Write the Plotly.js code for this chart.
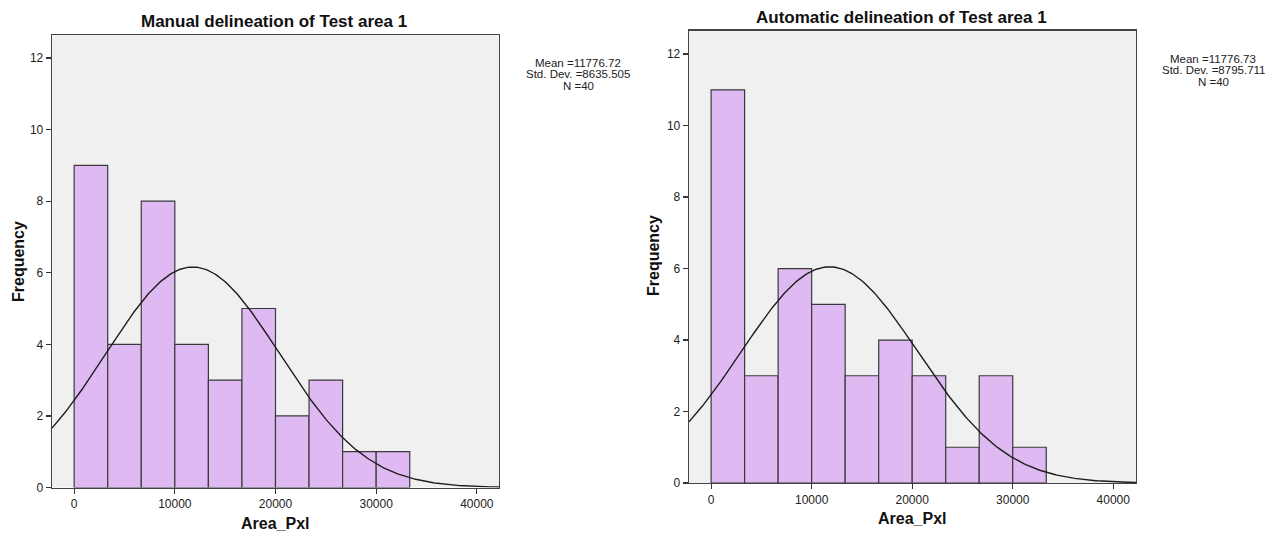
<!DOCTYPE html>
<html>
<head>
<meta charset="utf-8">
<script src="https://cdn.plot.ly/plotly-3.0.1.min.js"></script>
<style>html,body{margin:0;padding:0;background:#fff;}#chart{width:1286px;height:541px;}</style>
</head>
<body>
<div id="chart"></div>
<script>
// Histogram bins (lower edges, pixel area), shared by both panels
const binLeft = [0, 3333.33, 6666.67, 10000, 13333.33, 16666.67, 20000, 23333.33, 26666.67, 30000];
const binWidth = 3333.33;

// Frequencies
const manualCounts = [9, 4, 8, 4, 3, 5, 2, 3, 1, 1];
const autoCounts   = [11, 3, 6, 5, 3, 4, 3, 1, 3, 1];

// Summary statistics printed on the chart
const manualStats = {mean: 11776.72, sd: 8635.505, n: 40};
const autoStats   = {mean: 11776.73, sd: 8795.711, n: 40};

const titles = ["Manual delineation of Test area 1", "Automatic delineation of Test area 1"];
const xTitle = "Area_Pxl";
const yTitle = "Frequency";
const xTickVals = [0, 10000, 20000, 30000, 40000];
const yTickVals = [0, 2, 4, 6, 8, 10, 12];

const xRange1 = [-2200, 42200];
const xRange2 = [-2200, 42260];
const yRange1 = [0, 12.64];
const yRange2 = [0, 12.66];

// Fitted normal curve (the curve SPSS overlays from mean, SD and N)
function normalCurve(st, rng) {
  const xs = [], ys = [];
  const steps = 300;
  for (let i = 0; i <= steps; i++) {
    const x = rng[0] + (rng[1] - rng[0]) * i / steps;
    const z = (x - st.mean) / st.sd;
    xs.push(x);
    ys.push(st.n * binWidth / (st.sd * Math.sqrt(2 * Math.PI)) * Math.exp(-0.5 * z * z));
  }
  return {xs, ys};
}

const barColor = "#dfbaf2";
const edge = "#3a3a3a";
const FONT = "Arial, Liberation Sans, sans-serif";

function barTrace(counts, xa, ya) {
  return {
    type: "bar", x: binLeft, y: counts, width: binWidth, offset: 0,
    marker: {color: barColor, line: {color: edge, width: 1.2}},
    xaxis: xa, yaxis: ya, hoverinfo: "x+y", showlegend: false
  };
}
function curveTrace(st, rng, xa, ya) {
  const c = normalCurve(st, rng);
  return {
    type: "scatter", mode: "lines", x: c.xs, y: c.ys,
    line: {color: "#1e1e1e", width: 1.4}, xaxis: xa, yaxis: ya,
    hoverinfo: "skip", showlegend: false
  };
}

const data = [
  barTrace(manualCounts, "x", "y"), curveTrace(manualStats, xRange1, "x", "y"),
  barTrace(autoCounts, "x2", "y2"), curveTrace(autoStats, xRange2, "x2", "y2")
];

const tickFont = {family: FONT, size: 12, color: "#222"};

function xAxis(domain, anchor, rng) {
  return {
    domain: domain, anchor: anchor, range: rng, tickvals: xTickVals,
    ticktext: xTickVals.map(String), ticks: "outside", ticklen: 5, tickcolor: "#333", tickwidth: 1.2,
    tickfont: tickFont, showgrid: false, zeroline: false,
    showline: true, linecolor: "#444", linewidth: 1.3, mirror: true
  };
}
function yAxis(domain, anchor, rng) {
  return {
    domain: domain, anchor: anchor, range: rng, tickvals: yTickVals,
    ticks: "outside", ticklen: 5, tickcolor: "#333", tickwidth: 1.2,
    tickfont: tickFont, showgrid: false, zeroline: false,
    showline: true, linecolor: "#444", linewidth: 1.3, mirror: true
  };
}

const W = 1286, H = 541;
const px = v => v / W, py = v => (H - v) / H;

function txt(text, x, y, font, extra) {
  return Object.assign({text: text, xref: "paper", yref: "paper", x: px(x), y: py(y),
    xanchor: "center", yanchor: "middle", showarrow: false, font: font}, extra || {});
}

const titleFont = {family: FONT, size: 17, color: "#111", weight: "bold"};
const axFont = {family: FONT, size: 16, color: "#111", weight: "bold"};
const statFont = {family: FONT, size: 11.5, color: "#222"};

function statLines(st, cx, y0) {
  const lines = ["Mean =" + st.mean.toFixed(2), "Std. Dev. =" + st.sd.toFixed(3), "N =" + st.n];
  return lines.map((l, i) => txt(l, cx, y0 + i * 11.3, statFont));
}

const layout = {
  width: W, height: H,
  margin: {l: 0, r: 0, t: 0, b: 0},
  paper_bgcolor: "#ffffff",
  plot_bgcolor: "#f0f0f0",
  bargap: 0,
  xaxis: xAxis([px(52), px(499)], "y", xRange1),
  yaxis: yAxis([py(487.5), py(35)], "x", yRange1),
  xaxis2: xAxis([px(689), px(1136)], "y2", xRange2),
  yaxis2: yAxis([py(483), py(30.5)], "x2", yRange2),
  annotations: [
    txt(titles[0], 274, 22, titleFont),
    txt(titles[1], 901, 18, titleFont),
    txt(xTitle, 275, 523, axFont),
    txt(xTitle, 912, 518, axFont),
    txt(yTitle, 18, 262, axFont, {textangle: -90}),
    txt(yTitle, 653, 256, axFont, {textangle: -90})
  ].concat(statLines(manualStats, 578, 63), statLines(autoStats, 1213, 59))
};

Plotly.newPlot("chart", data, layout, {displayModeBar: false, staticPlot: true});
</script>
</body>
</html>
